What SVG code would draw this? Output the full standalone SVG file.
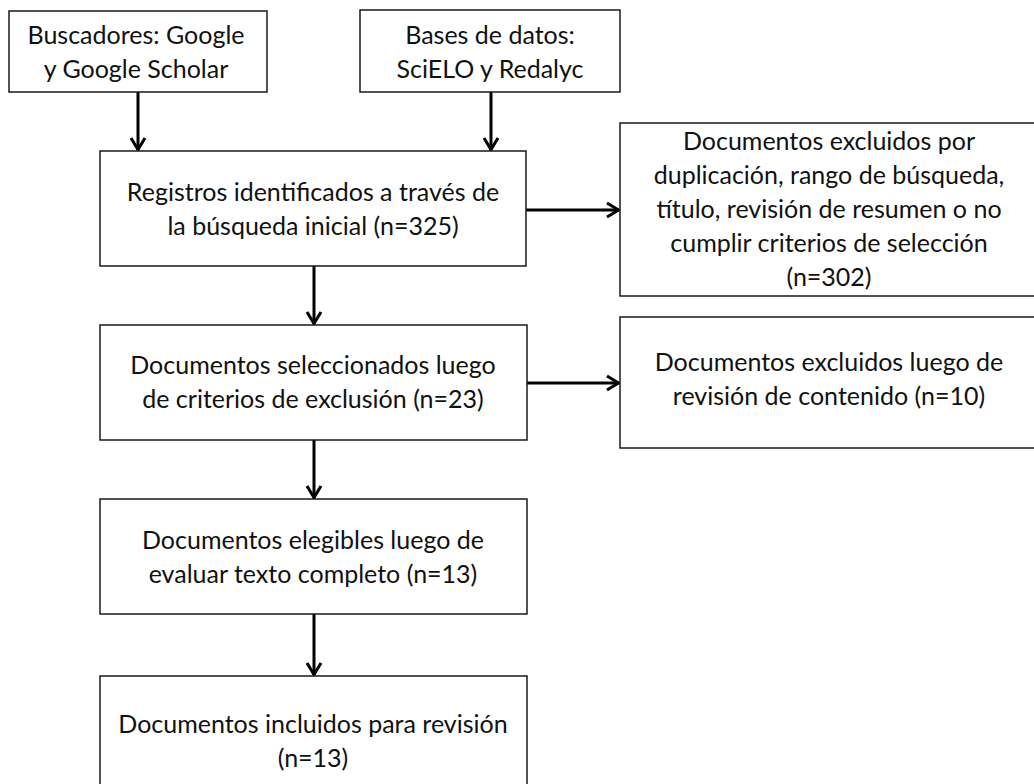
<svg xmlns="http://www.w3.org/2000/svg" width="1034" height="784" viewBox="0 0 1034 784">
<style>
.box{fill:#fff;stroke:#1a1a1a;stroke-width:1.5}
.t{font-family:Lato,"Liberation Sans",sans-serif;font-size:25px;fill:#111;text-anchor:middle}
.c{stroke:#000;stroke-width:3;fill:none;marker-end:url(#ah)}
</style>
<defs>
<marker id="ah" markerUnits="userSpaceOnUse" markerWidth="20" markerHeight="20" viewBox="0 0 20 20" refX="15" refY="10" orient="auto">
<path d="M3,3 L14.5,10 L3,17" fill="none" stroke="#000" stroke-width="3"/>
</marker>
</defs>
<rect width="1034" height="784" fill="#fff"/>
<g id="connectors">
<line class="c" x1="138" y1="92" x2="138" y2="150"/>
<line class="c" x1="491" y1="92" x2="491" y2="150"/>
<line class="c" x1="526" y1="210" x2="619" y2="210"/>
<line class="c" x1="314" y1="266" x2="314" y2="324"/>
<line class="c" x1="527" y1="383" x2="619" y2="383"/>
<line class="c" x1="314" y1="440" x2="314" y2="498"/>
<line class="c" x1="314" y1="614" x2="314" y2="675"/>
</g>
<g id="n1">
<rect class="box" x="9" y="11" width="258" height="81"/>
<text class="t" x="136" y="44">Buscadores: Google</text>
<text class="t" x="136" y="78">y Google Scholar</text>
</g>
<g id="n2">
<rect class="box" x="360" y="10" width="260" height="82"/>
<text class="t" x="490" y="44">Bases de datos:</text>
<text class="t" x="490" y="78">SciELO y Redalyc</text>
</g>
<g id="n3">
<rect class="box" x="100" y="151" width="426" height="115"/>
<text class="t" x="313" y="201">Registros identificados a través de</text>
<text class="t" x="313" y="235">la búsqueda inicial (n=325)</text>
</g>
<g id="n4">
<rect class="box" x="620" y="123" width="430" height="173"/>
<text class="t" x="829" y="150">Documentos excluidos por</text>
<text class="t" x="829" y="184">duplicación, rango de búsqueda,</text>
<text class="t" x="829" y="218">título, revisión de resumen o no</text>
<text class="t" x="829" y="252">cumplir criterios de selección</text>
<text class="t" x="829" y="286">(n=302)</text>
</g>
<g id="n5">
<rect class="box" x="100" y="325" width="427" height="115"/>
<text class="t" x="313" y="374">Documentos seleccionados luego</text>
<text class="t" x="313" y="408">de criterios de exclusión (n=23)</text>
</g>
<g id="n6">
<rect class="box" x="620" y="317" width="430" height="131"/>
<text class="t" x="829" y="371">Documentos excluidos luego de</text>
<text class="t" x="829" y="405">revisión de contenido (n=10)</text>
</g>
<g id="n7">
<rect class="box" x="100" y="499" width="427" height="115"/>
<text class="t" x="313" y="549">Documentos elegibles luego de</text>
<text class="t" x="313" y="583">evaluar texto completo (n=13)</text>
</g>
<g id="n8">
<rect class="box" x="100" y="676" width="427" height="130"/>
<text class="t" x="313" y="733">Documentos incluidos para revisión</text>
<text class="t" x="313" y="767">(n=13)</text>
</g>
</svg>
